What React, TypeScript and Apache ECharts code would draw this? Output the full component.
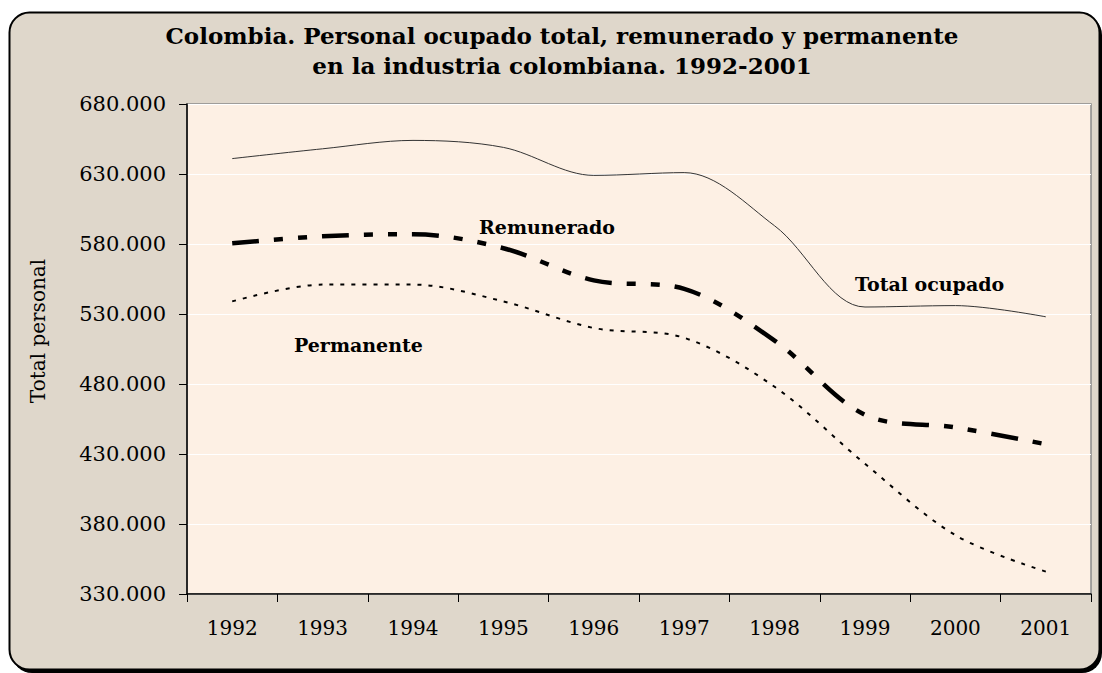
import React, { useEffect, useRef } from "react";
import * as echarts from "echarts";

const years = ["1992", "1993", "1994", "1995", "1996", "1997", "1998", "1999", "2000", "2001"];
const totalOcupado = [641000, 648000, 654000, 649000, 629000, 631000, 593000, 535000, 536000, 528000];
const remunerado = [580500, 585500, 587000, 577000, 554000, 548000, 511000, 458000, 449000, 437000];
const permanente = [539000, 551000, 551000, 539000, 520000, 513000, 478000, 423000, 372000, 346000];
const yMin = 330000;
const yMax = 680000;
const yStep = 50000;

const titleLine1 = "Colombia. Personal ocupado total, remunerado y permanente";
const titleLine2 = "en la industria colombiana. 1992-2001";
const yAxisName = "Total personal";
const seriesNames = ["Total ocupado", "Remunerado", "Permanente"];

const FONT = "'DejaVu Serif', serif";

function fmt(v: number): string {
  const th = Math.round(v / 1000);
  const rest = Math.round(v - th * 1000);
  return th + "." + String(rest).padStart(3, "0");
}

export default function App() {
  const ref = useRef<HTMLDivElement>(null);
  useEffect(() => {
    if (!ref.current) return;
    const chart = echarts.init(ref.current, null, { renderer: "svg" });
    const labelStyle = { fontFamily: FONT, fontWeight: "bold", fontSize: 19, fill: "#000" };
    chart.setOption({
      animation: false,
      backgroundColor: "#ffffff",
      graphic: [
        {
          type: "rect",
          z: -20,
          shape: { x: 12, y: 15, width: 1090, height: 658, r: 20 },
          style: { fill: "#000" },
        },
        {
          type: "rect",
          z: -19,
          shape: { x: 9.5, y: 12.5, width: 1090, height: 657, r: 20 },
          style: { fill: "#dfd7cb", stroke: "#000", lineWidth: 2 },
        },
        {
          type: "text",
          z: 50,
          x: 562,
          y: 35,
          style: { text: titleLine1, fontFamily: FONT, fontWeight: "bold", fontSize: 23, fill: "#000", align: "center", verticalAlign: "middle" },
        },
        {
          type: "text",
          z: 50,
          x: 562,
          y: 65,
          style: { text: titleLine2, fontFamily: FONT, fontWeight: "bold", fontSize: 23, fill: "#000", align: "center", verticalAlign: "middle" },
        },
        {
          type: "text",
          z: 50,
          x: 38,
          y: 331,
          rotation: Math.PI / 2,
          style: { text: yAxisName, fontFamily: FONT, fontSize: 20, fill: "#000", align: "center", verticalAlign: "middle" },
        },
        {
          type: "text",
          z: 50,
          x: 479,
          y: 227,
          style: { ...labelStyle, text: seriesNames[1], align: "left", verticalAlign: "middle" },
        },
        {
          type: "text",
          z: 50,
          x: 855,
          y: 284,
          style: { ...labelStyle, text: seriesNames[0], align: "left", verticalAlign: "middle" },
        },
        {
          type: "text",
          z: 50,
          x: 294,
          y: 345,
          style: { ...labelStyle, text: seriesNames[2], align: "left", verticalAlign: "middle" },
        },
      ],
      grid: {
        left: 187,
        top: 104,
        width: 904,
        height: 490,
        show: true,
        backgroundColor: "#fdf0e4",
        borderColor: "#8a8a8a",
        borderWidth: 1.5,
      },
      xAxis: {
        type: "category",
        data: years,
        boundaryGap: true,
        axisLine: { show: true, lineStyle: { color: "#000", width: 1.5 } },
        axisTick: { show: true, inside: false, length: 8, lineStyle: { color: "#000", width: 1 } },
        axisLabel: { margin: 24, fontFamily: FONT, fontSize: 20, color: "#000" },
        splitLine: { show: false },
      },
      yAxis: {
        type: "value",
        min: yMin,
        max: yMax,
        interval: yStep,
        axisLine: { show: true, lineStyle: { color: "#000", width: 1.5 } },
        axisTick: { show: true, inside: false, length: 8, lineStyle: { color: "#000", width: 1 } },
        axisLabel: { margin: 21, fontFamily: FONT, fontSize: 21, color: "#000", formatter: (v: number) => fmt(v) },
        splitLine: { show: true, lineStyle: { color: "#ffffff", width: 1 } },
      },
      series: [
        {
          name: seriesNames[0],
          type: "line",
          data: totalOcupado,
          smooth: 0.33,
          symbol: "none",
          lineStyle: { color: "#333333", width: 1 },
          z: 10,
        },
        {
          name: seriesNames[1],
          type: "line",
          data: remunerado,
          smooth: 0.33,
          symbol: "none",
          lineStyle: { color: "#000000", width: 4.5, type: [27, 15, 9, 15, 9, 15], cap: "butt" },
          z: 10,
        },
        {
          name: seriesNames[2],
          type: "line",
          data: permanente,
          smooth: 0.33,
          symbol: "none",
          lineStyle: { color: "#000000", width: 2, type: [4, 7], cap: "butt" },
          z: 10,
        },
      ],
    });
    return () => chart.dispose();
  }, []);
  return (
    <div
      ref={ref}
      style={{ position: "fixed", left: 0, top: 0, width: 1102, height: 673 }}
    />
  );
}
